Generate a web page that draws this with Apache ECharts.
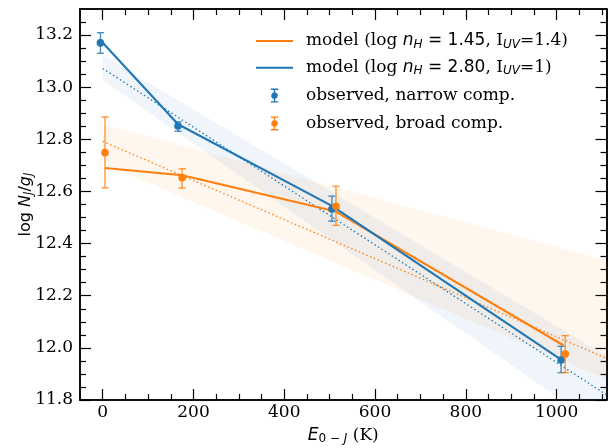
<!DOCTYPE html>
<html><head><meta charset="utf-8">
<script src="https://cdn.jsdelivr.net/npm/echarts@6/dist/echarts.min.js"></script>
<style>html,body{margin:0;padding:0;background:#fff}#c{width:608px;height:448px}</style>
</head><body><div id="c"></div>
<script>
// ---- data ----
const xMajorTicks = [0, 200, 400, 600, 800, 1000];
const xMinorTicks = [50,100,150,250,300,350,450,500,550,650,700,750,850,900,950,1050,1100];
const yMajorTicks = [11.8, 12.0, 12.2, 12.4, 12.6, 12.8, 13.0, 13.2];
const yMinorTicks = [11.85,11.9,11.95,12.05,12.1,12.15,12.25,12.3,12.35,12.45,12.5,12.55,12.65,12.7,12.75,12.85,12.9,12.95,13.05,13.1,13.15,13.25];

const narrowE  = [-5, 166, 505, 1010];
const narrowY  = [13.170, 12.851, 12.533, 11.953];
const narrowLo = [13.130, 12.831, 12.486, 11.905];
const narrowHi = [13.209, 12.867, 12.582, 12.006];

const broadE  = [5, 175, 514, 1019];
const broadY  = [12.749, 12.653, 12.543, 11.976];
const broadLo = [12.614, 12.613, 12.470, 11.905];
const broadHi = [12.886, 12.687, 12.620, 12.047];

const modelBlueE = [-5, 166, 505, 1010];
const modelBlueY = [13.180, 12.858, 12.545, 11.955];
const modelOrangeE = [5, 175, 514, 1015];
const modelOrangeY = [12.690, 12.662, 12.523, 12.010];

const fitE = [0, 1110];
const fitBlueY = [13.072, 11.820];
const fitOrangeY = [12.792, 11.960];

const bandE = [0, 1110];
const bandBlueTop = [13.123, 11.969];
const bandBlueBot = [13.027, 11.680];
const bandOrangeTop = [12.858, 12.335];
const bandOrangeBot = [12.708, 11.881];

const BLUE = '#1f77b4', ORANGE = '#ff7f0e';
const X_MIN = -50, X_MAX = 1110, Y_MIN = 11.8, Y_MAX = 13.3;

// ---- helpers ----
const zip = (a, b) => a.map((v, i) => [v, b[i]]);
function bandSeries(top, bot, color) {
  const data = bandE.map((e, i) => [e, top[i], bot[i]]);
  return {
    type: 'custom', clip: true, silent: true, z: 1,
    data: data,
    renderItem: function (params, api) {
      if (params.dataIndex !== 0) return;
      const pts = [];
      data.forEach(d => pts.push(api.coord([d[0], d[1]])));
      for (let i = data.length - 1; i >= 0; i--) pts.push(api.coord([data[i][0], data[i][2]]));
      return { type: 'polygon', shape: { points: pts }, style: { fill: color } };
    }
  };
}
function errSeries(name, E, Y, lo, hi, color) {
  return {
    name: name, type: 'custom', clip: false, z: 10,
    itemStyle: { color: color },
    data: E.map((e, i) => [e, Y[i], lo[i], hi[i]]),
    renderItem: function (params, api) {
      const p = api.coord([api.value(0), api.value(1)]);
      const t = api.coord([api.value(0), api.value(3)]);
      const b = api.coord([api.value(0), api.value(2)]);
      const cw = 3.6;
      const ls = { stroke: color, lineWidth: 1.4, opacity: 0.8 };
      return { type: 'group', children: [
        { type: 'line', shape: { x1: p[0], y1: t[1], x2: p[0], y2: b[1] }, style: ls },
        { type: 'line', shape: { x1: p[0]-cw, y1: t[1], x2: p[0]+cw, y2: t[1] }, style: ls },
        { type: 'line', shape: { x1: p[0]-cw, y1: b[1], x2: p[0]+cw, y2: b[1] }, style: ls },
        { type: 'circle', shape: { cx: p[0], cy: p[1], r: 3.8 }, style: { fill: color } }
      ]};
    }
  };
}
function lineSeries(name, E, Y, color, dotted, z) {
  return {
    name: name, type: 'line', data: zip(E, Y), symbol: 'none', z: z, clip: true,
    itemStyle: { color: color },
    lineStyle: dotted ? { color: color, width: 1.3, type: [1.5, 2.6] } : { color: color, width: 2.1 },
    silent: true, animation: false
  };
}

const serif = 'DejaVu Serif', sans = 'DejaVu Sans';
const FS = 17;
const SFS = 12;
function baseX(idx, pos, ticks, len, labels) {
  return {
    type: 'value', gridIndex: 0, position: pos, min: X_MIN, max: X_MAX,
    axisLine: { show: true, onZero: false, lineStyle: { color: '#000', width: 1.5 } },
    axisTick: { show: true, inside: true, length: len, customValues: ticks, lineStyle: { color: '#000', width: 1.2 } },
    axisLabel: labels ? { show: true, customValues: ticks, margin: 4, color: '#000', fontFamily: serif, fontSize: FS,
      formatter: v => String(Math.round(v)) } : { show: false },
    splitLine: { show: false }, minorTick: { show: false }
  };
}
function baseY(idx, pos, ticks, len, labels) {
  return {
    type: 'value', gridIndex: 0, position: pos, min: Y_MIN, max: Y_MAX,
    axisLine: { show: true, onZero: false, lineStyle: { color: '#000', width: 1.5 } },
    axisTick: { show: true, inside: true, length: len, customValues: ticks, lineStyle: { color: '#000', width: 1.2 } },
    axisLabel: labels ? { show: true, customValues: ticks, margin: 7, color: '#000', fontFamily: serif, fontSize: FS,
      formatter: v => v.toFixed(1) } : { show: false },
    splitLine: { show: false }, minorTick: { show: false }
  };
}

const xAxes = [
  baseX(0, 'bottom', xMajorTicks, 11, true),
  baseX(1, 'bottom', xMinorTicks, 6, false),
  baseX(2, 'top', xMajorTicks, 11, false),
  baseX(3, 'top', xMinorTicks, 6, false)
];
Object.assign(xAxes[0], {
  name: '{i|E}{s|0 − }{si|J}{r| (K)}', nameLocation: 'middle', nameGap: 26, nameMoveOverlap: false,
  nameTextStyle: { color: '#000', fontFamily: sans, fontSize: FS, rich: {
    i: { fontFamily: sans, fontStyle: 'italic', fontSize: FS, color: '#000' },
    s: { fontFamily: sans, fontSize: SFS, padding: [7, 0, 0, 0], color: '#000' },
    si: { fontFamily: sans, fontStyle: 'italic', fontSize: SFS, padding: [7, 0, 0, 0], color: '#000' },
    r: { fontFamily: serif, fontSize: FS, color: '#000' }
  } }
});
const yAxes = [
  baseY(0, 'left', yMajorTicks, 11, true),
  baseY(1, 'left', yMinorTicks, 6, false),
  baseY(2, 'right', yMajorTicks, 11, false),
  baseY(3, 'right', yMinorTicks, 6, false)
];
Object.assign(yAxes[0], {
  name: '{n|log }{i|N}{s|J}{n|/}{i|g}{s|J}', nameLocation: 'middle', nameGap: 45, nameRotate: 90, nameMoveOverlap: false,
  nameTextStyle: { color: '#000', fontFamily: sans, fontSize: 16, rich: {
    n: { fontFamily: sans, fontSize: 16, color: '#000' },
    i: { fontFamily: sans, fontStyle: 'italic', fontSize: 16, color: '#000' },
    s: { fontFamily: sans, fontStyle: 'italic', fontSize: 11.5, padding: [7, 0, 0, 0], color: '#000' }
  } }
});

const LINE_ICON = 'path://M0,0 L37,0 L37,2.1 L0,2.1 Z';
const ERR_ICON = 'path://M0,-2.5 L0.01,-2.5 L0,-2.49 Z M0,16.5 L0.01,16.5 L0,16.49 Z ' +
  'M0,0 L7.4,0 L7.4,1.3 L4.4,1.3 L4.4,3.78 A3.3,3.3 0 0 1 4.4,10.22 L4.4,12.7 L7.4,12.7 L7.4,14 L0,14 L0,12.7 L3,12.7 L3,10.22 A3.3,3.3 0 0 1 3,3.78 L3,1.3 L0,1.3 Z';

const legendRich = {
  n: { fontFamily: serif, fontSize: FS, color: '#000' },
  i: { fontFamily: sans, fontStyle: 'italic', fontSize: FS, color: '#000' },
  m: { fontFamily: sans, fontSize: FS, color: '#000' },
  s: { fontFamily: sans, fontStyle: 'italic', fontSize: SFS, padding: [7, 0, 0, 0], color: '#000' }
};
const NAME_O = 'model (log nH = 1.45, IUV=1.4)';
const NAME_B = 'model (log nH = 2.80, IUV=1)';
const NAME_N = 'observed, narrow comp.';
const NAME_BR = 'observed, broad comp.';
const legendFmt = {};
legendFmt[NAME_O] = '{n|model (log }{i|n}{s|H}{m| = 1.45}{n|, I}{s|UV}{n|=1.4)}';
legendFmt[NAME_B] = '{n|model (log }{i|n}{s|H}{m| = 2.80}{n|, I}{s|UV}{n|=1)}';
legendFmt[NAME_N] = '{n|observed, narrow comp.}';
legendFmt[NAME_BR] = '{n|observed, broad comp.}';

const option = {
  animation: false,
  backgroundColor: '#fff',
  grid: { left: 80, right: 1.5, top: 9, bottom: 48, containLabel: false, outerBoundsMode: 'none' },
  xAxis: xAxes,
  yAxis: yAxes,
  legend: {
    orient: 'vertical', left: 256, top: 32.5, itemWidth: 37, itemHeight: 19, itemGap: 8.8,
    selectedMode: false, padding: 0,
    data: [
      { name: NAME_O, icon: LINE_ICON },
      { name: NAME_B, icon: LINE_ICON },
      { name: NAME_N, icon: ERR_ICON },
      { name: NAME_BR, icon: ERR_ICON }
    ],
    formatter: n => legendFmt[n],
    textStyle: { fontFamily: serif, fontSize: FS, color: '#000', padding: [0, 0, 0, 8], rich: legendRich }
  },
  series: [
    bandSeries(bandOrangeTop, bandOrangeBot, 'rgba(255,127,14,0.07)'),
    bandSeries(bandBlueTop, bandBlueBot, 'rgba(31,119,180,0.07)'),
    lineSeries('fitOrange', fitE, fitOrangeY, ORANGE, true, 3),
    lineSeries('fitBlue', fitE, fitBlueY, BLUE, true, 3),
    lineSeries(NAME_O, modelOrangeE, modelOrangeY, ORANGE, false, 5),
    lineSeries(NAME_B, modelBlueE, modelBlueY, BLUE, false, 5),
    errSeries(NAME_N, narrowE, narrowY, narrowLo, narrowHi, BLUE),
    errSeries(NAME_BR, broadE, broadY, broadLo, broadHi, ORANGE)
  ]
};
const chart = echarts.init(document.getElementById('c'), null, { renderer: 'canvas' });
chart.setOption(option);
</script></body></html>
